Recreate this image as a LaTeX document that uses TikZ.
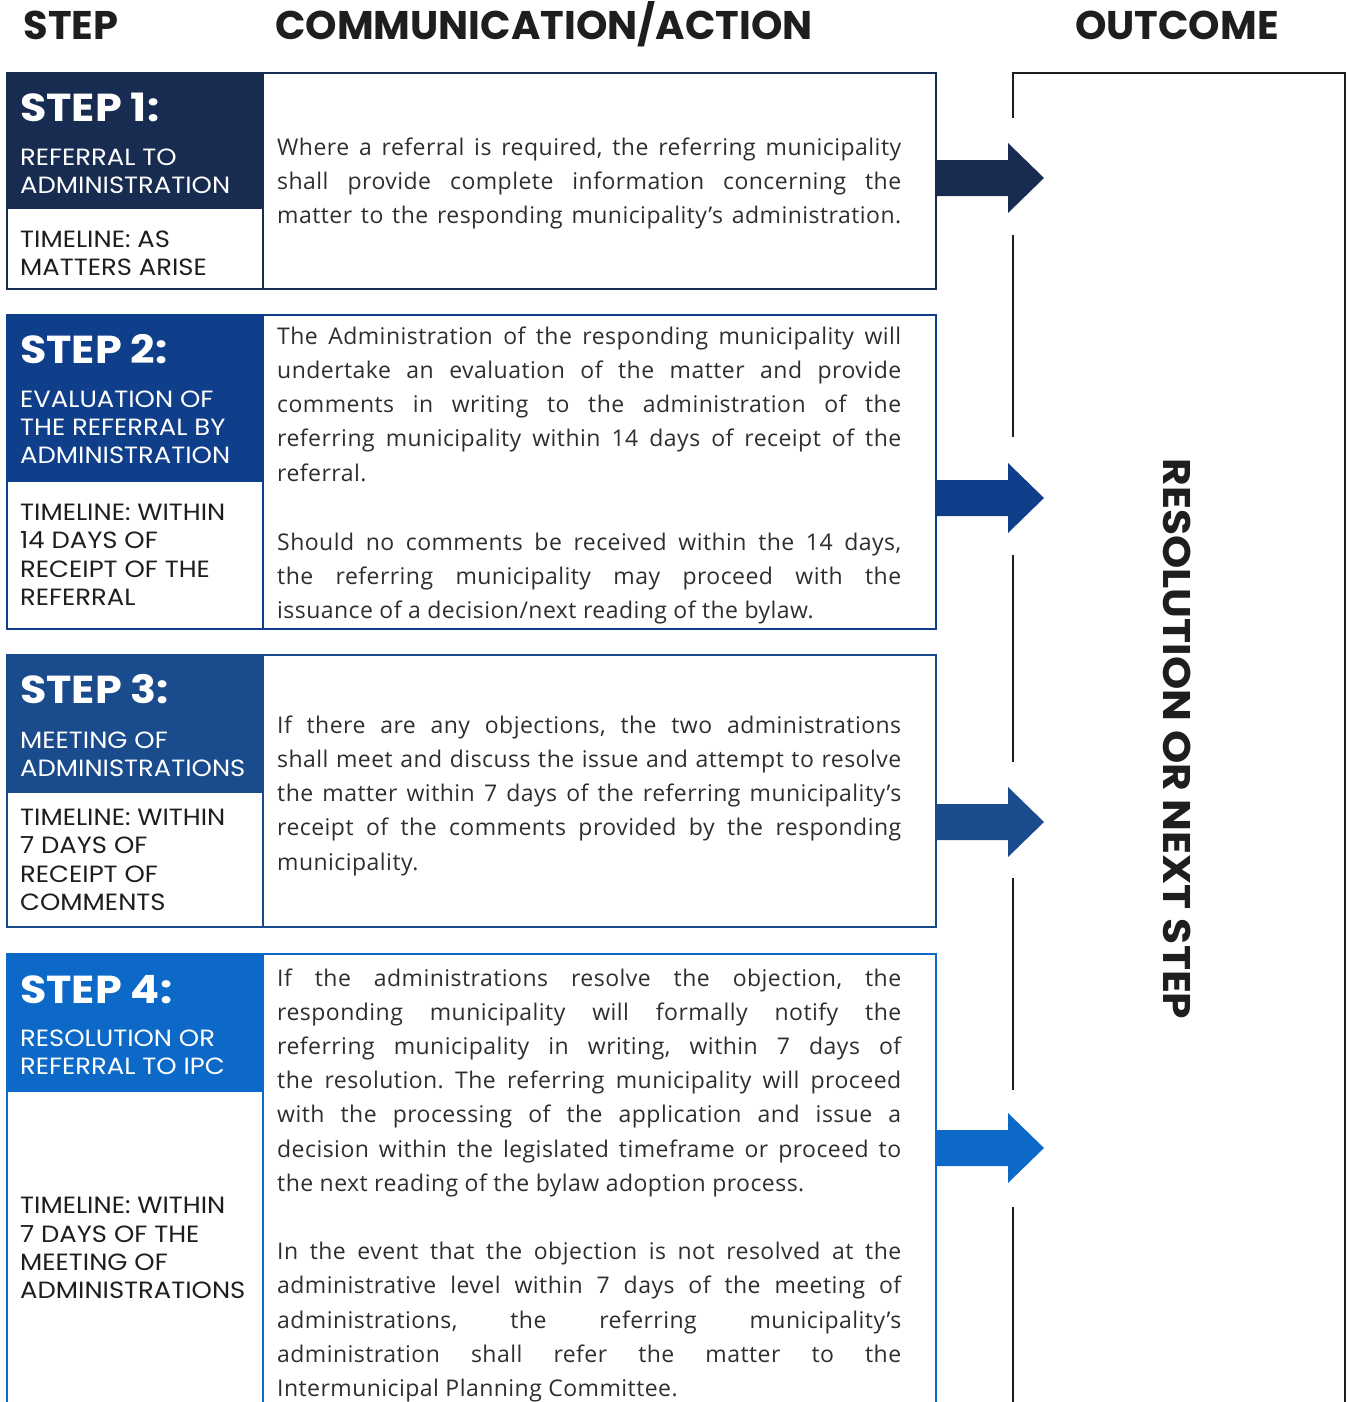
\documentclass[tikz,border=0pt]{standalone}
\usepackage{fontspec}
\setmainfont{Open Sans}[LetterSpace=2]
\newfontfamily\titlefont{Poppins}
\newfontfamily\headfont{Poppins}[FakeStretch=1.1]
\definecolor{stepA}{HTML}{172C50}
\definecolor{stepB}{HTML}{0F3E8A}
\definecolor{stepC}{HTML}{1A4B8C}
\definecolor{stepD}{HTML}{0C69C8}
\definecolor{ink}{HTML}{1E1E1E}
\definecolor{bodyink}{HTML}{2E2E2E}
\def\colw{624pt}

\begin{document}
\frenchspacing
\begin{tikzpicture}[x=1pt,y=-1pt]
\tikzstyle{frame}=[line width=1.8pt]
\tikzstyle{outline}=[line width=2.4pt, draw=ink]
\tikzstyle{colhead}=[anchor=base, inner sep=0pt, text=ink, font=\titlefont\bfseries\fontsize{40}{40}\selectfont]
\tikzstyle{steptitle}=[anchor=base west, inner sep=0pt, text=white, font=\headfont\bfseries\fontsize{39}{39}\selectfont]
\tikzstyle{stepsub}=[anchor=base west, inner sep=0pt, text=white, font=\headfont\fontsize{23.5}{28}\selectfont]
\tikzstyle{timeline}=[stepsub, text=ink]
\tikzstyle{body}=[anchor=base west, inner sep=0pt, text=bodyink, font=\fontsize{23}{34}\selectfont]
\tikzstyle{full}=[body, text width=\colw, align=justify, execute at begin node={\parfillskip=0pt\hyphenpenalty=10000}]

\clip (0,0) rectangle (1348,1402);

% Column headings
\node[colhead] (h-step) at (71,40) {STEP};
\node[colhead] (h-comm) at (544,40) {COMMUNICATION/ACTION};
\node[colhead] (h-out) at (1177,40) {OUTCOME};

% Step 1
\fill[stepA] (7,73) rectangle (263,209);
\draw[frame, draw=stepA] (7,73) rectangle (936,289) (263,73) -- (263,289);
\node[steptitle] (t-1) at (20,122) {STEP 1:};
\foreach \y/\t [count=\i] in {165/REFERRAL TO, 193.5/ADMINISTRATION}
\node[stepsub] (sub1-\i) at (20,\y) {\t};
\foreach \y/\t [count=\i] in {247/TIMELINE: AS, 275/MATTERS ARISE}
\node[timeline] (tl1-\i) at (20,\y) {\t};
\foreach \y/\t [count=\i] in {155/{Where a referral is required, the referring municipality},
189.3/{shall provide complete information concerning the},
223.6/{matter to the responding municipality’s administration.}}
\node[full] (b1-\i) at (277,\y) {\t};

% Step 2
\fill[stepB] (7,315) rectangle (263,482);
\draw[frame, draw=stepB] (7,315) rectangle (936,629) (263,315) -- (263,629);
\node[steptitle] (t-2) at (20,363) {STEP 2:};
\foreach \y/\t [count=\i] in {407/EVALUATION OF, 435/THE REFERRAL BY, 463/ADMINISTRATION}
\node[stepsub] (sub2-\i) at (20,\y) {\t};
\foreach \y/\t [count=\i] in {520/TIMELINE: WITHIN, 548/14 DAYS OF, 577/RECEIPT OF THE, 605/REFERRAL}
\node[timeline] (tl2-\i) at (20,\y) {\t};
\foreach \y/\t [count=\i] in {344/{The Administration of the responding municipality will},
378.3/{undertake an evaluation of the matter and provide},
412.6/{comments in writing to the administration of the},
446.9/{referring municipality within 14 days of receipt of the},
550/{Should no comments be received within the 14 days,},
584.3/{the referring municipality may proceed with the}}
\node[full] (b2-\i) at (277,\y) {\t};
\node[body] (b2-end1) at (277,481.2) {referral.};
\node[body] (b2-end2) at (277,618.6) {issuance of a decision/next reading of the bylaw.};

% Step 3
\fill[stepC] (7,655) rectangle (263,793);
\draw[frame, draw=stepC] (7,655) rectangle (936,927) (263,655) -- (263,927);
\node[steptitle] (t-3) at (20,703) {STEP 3:};
\foreach \y/\t [count=\i] in {748/MEETING OF, 776/ADMINISTRATIONS}
\node[stepsub] (sub3-\i) at (20,\y) {\t};
\foreach \y/\t [count=\i] in {825/TIMELINE: WITHIN, 853/7 DAYS OF, 882/RECEIPT OF, 910/COMMENTS}
\node[timeline] (tl3-\i) at (20,\y) {\t};
\foreach \y/\t [count=\i] in {733/{If there are any objections, the two administrations},
767.3/{shall meet and discuss the issue and attempt to resolve},
801.6/{the matter within 7 days of the referring municipality’s},
835.9/{receipt of the comments provided by the responding}}
\node[full] (b3-\i) at (277,\y) {\t};
\node[body] (b3-end) at (277,870.2) {municipality.};

% Step 4
\fill[stepD] (7,954) rectangle (263,1092);
\draw[frame, draw=stepD] (7,954) rectangle (936,1430) (263,954) -- (263,1430);
\node[steptitle] (t-4) at (20,1003) {STEP 4:};
\foreach \y/\t [count=\i] in {1046/RESOLUTION OR, 1074/REFERRAL TO IPC}
\node[stepsub] (sub4-\i) at (20,\y) {\t};
\foreach \y/\t [count=\i] in {1213/TIMELINE: WITHIN, 1242/7 DAYS OF THE, 1270/MEETING OF, 1298/ADMINISTRATIONS}
\node[timeline] (tl4-\i) at (20,\y) {\t};
\foreach \y/\t [count=\i] in {986/{If the administrations resolve the objection, the},
1020.2/{responding municipality will formally notify the},
1054.4/{referring municipality in writing, within 7 days of},
1088.6/{the resolution. The referring municipality will proceed},
1122.8/{with the processing of the application and issue a},
1157/{decision within the legislated timeframe or proceed to},
1259.6/{In the event that the objection is not resolved at the},
1293.8/{administrative level within 7 days of the meeting of},
1328/{administrations, the referring municipality’s},
1362.2/{administration shall refer the matter to the}}
\node[full] (b4-\i) at (277,\y) {\t};
\node[body] (b4-end1) at (277,1191.2) {the next reading of the bylaw adoption process.};
\node[body] (b4-end2) at (277,1396.4) {Intermunicipal Planning Committee.};

% Outcome column, left side broken where the arrows come in
\foreach \a/\b in {73/118, 235/437, 555/762, 878/1090, 1207/1430}
\draw[outline] (1013,\a) -- (1013,\b);
\draw[outline] (1011.8,73) -- (1345,73) -- (1345,1430);
\node[colhead, font=\headfont\bfseries\fontsize{38.5}{38.5}\selectfont, anchor=center, rotate=-90] (res) at (1177,739) {RESOLUTION OR NEXT STEP};

% Arrows from each step to the outcome
\foreach \y/\c [count=\i] in {178/stepA, 498/stepB, 822/stepC, 1148/stepD} {
\coordinate (tail-\i) at (936,\y);
\coordinate (tip-\i) at (1044,\y);
\fill[\c] (936,\y-18) -- (1008,\y-18) -- (1008,\y-35) -- (tip-\i)
  -- (1008,\y+35) -- (1008,\y+18) -- (936,\y+18) -- cycle;
}

\end{tikzpicture}
\end{document}
